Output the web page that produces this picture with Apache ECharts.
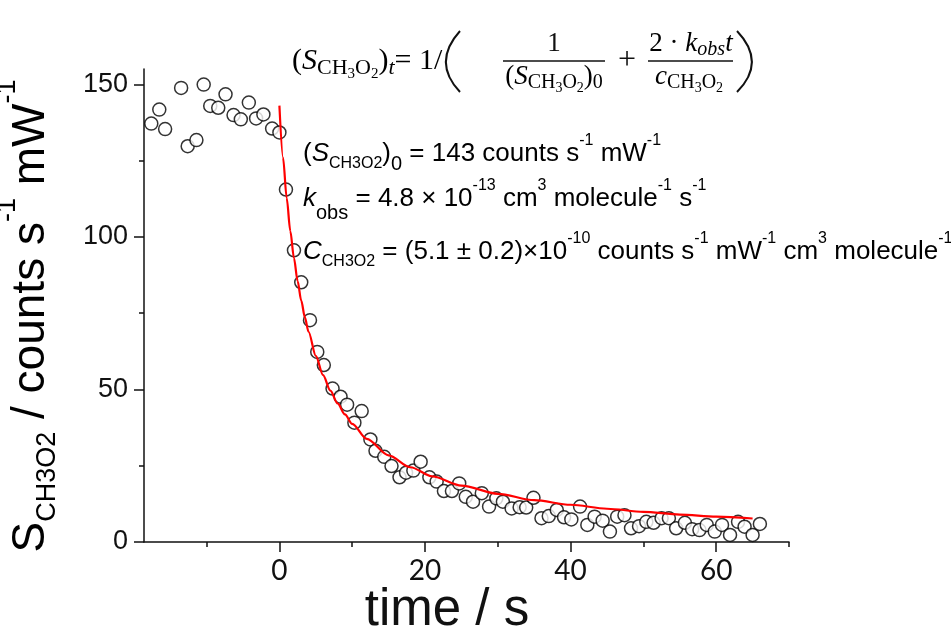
<!DOCTYPE html>
<html>
<head>
<meta charset="utf-8">
<script src="https://cdn.jsdelivr.net/npm/echarts@6/dist/echarts.min.js"></script>
<style>
  html, body { margin: 0; padding: 0; background: #fff; }
  #chart { width: 951px; height: 642px; }
</style>
</head>
<body>
<div id="chart"></div>
<script>
const sigTime = [-17.6, -16.5, -15.7, -13.5, -12.6, -11.4, -10.4, -9.5, -8.4, -7.4, -6.3, -5.3, -4.2, -3.2, -2.2, -1.0, 0.0,
    0.9, 2.0, 3.0, 4.2, 5.2, 6.1, 7.3, 8.4, 9.3, 10.3, 11.3, 12.5, 13.2, 14.4, 15.4, 16.5, 17.4, 18.4, 19.4, 20.6,
    21.6, 22.6, 23.7, 24.7, 25.6, 26.6, 27.8, 28.8, 29.8, 30.7, 31.9, 33.0, 33.9, 34.9, 36.0, 37.0, 38.1, 39.1, 40.1, 41.3,
    42.3, 43.3, 44.4, 45.4, 46.4, 47.4, 48.3, 49.4, 50.4, 51.4, 52.5, 53.5, 54.5, 55.7, 56.7, 57.7, 58.7, 59.8, 60.8, 61.9,
    63.0, 63.9, 65.0, 66.0];
const sigValue = [137.1, 141.7, 135.3, 148.8, 129.7, 131.7, 149.9, 142.9, 142.3, 146.7, 139.9, 138.5, 144.0, 138.8, 140.1, 135.5, 134.2,
    115.5, 95.6, 85.1, 72.7, 62.3, 58.0, 50.3, 47.6, 45.0, 39.1, 42.9, 33.6, 29.9, 27.9, 24.9, 21.2, 22.7, 23.4, 26.3, 21.2,
    19.8, 16.7, 16.7, 19.2, 14.8, 13.2, 16.0, 11.6, 14.3, 13.2, 11.0, 11.4, 11.3, 14.5, 7.8, 8.5, 10.5, 8.1, 7.4, 11.6,
    5.6, 8.3, 7.0, 3.4, 8.3, 8.8, 4.5, 5.2, 6.6, 6.3, 7.8, 7.8, 4.5, 6.3, 4.2, 3.9, 5.6, 3.4, 5.6, 2.3,
    6.6, 5.0, 2.3, 5.9];

// red fit curve
const fitTime = [0, 0.5, 1, 1.5, 2, 2.5, 3, 3.5, 4, 5, 6, 7, 8, 9, 10, 12, 15, 18, 21, 25, 30, 35, 40, 45, 50, 55, 60, 65];
const fitValue = [143.0, 126.0, 112.7, 101.9, 93.0, 85.5, 79.1, 73.6, 68.9, 61.0, 54.7, 49.6, 45.4, 41.8, 38.7, 33.8, 28.4,
    24.5, 21.5, 18.5, 15.8, 13.7, 12.2, 10.9, 9.9, 9.0, 8.3, 7.7];

const xMajorTicks = [0, 20, 40, 60];
const xMinorTicks = [-10, 10, 30, 50, 70];
const yMajorTicks = [0, 50, 100, 150];
const yMinorTicks = [25, 75, 125];

const chart = echarts.init(document.getElementById("chart"));

const sans = "'Liberation Sans', Arial, sans-serif";
const serif = "'Liberation Serif', 'Times New Roman', serif";
const ink = "#111";

// rich styles: sub / sup shifted with padding
const annRich = {
    b: { fontSize: 26, fontFamily: sans, color: ink, lineHeight: 40 },
    i: { fontSize: 26, fontFamily: sans, fontStyle: "italic", color: ink, lineHeight: 40 },
    sub: { fontSize: 16, fontFamily: sans, color: ink, padding: [19, 0, 0, 0] },
    sub0: { fontSize: 20, fontFamily: sans, color: ink, padding: [20, 0, 0, 0] },
    obs: { fontSize: 20, fontFamily: sans, color: ink, padding: [28, 0, 0, 0] },
    sup: { fontSize: 16, fontFamily: sans, color: ink, padding: [0, 0, 27, 0] }
};

const eqRich = {
    b: { fontSize: 30, fontFamily: serif, color: ink, lineHeight: 46 },
    i: { fontSize: 30, fontFamily: serif, fontStyle: "italic", color: ink, lineHeight: 46 },
    s: { fontSize: 22, fontFamily: serif, color: ink, padding: [14, 0, 0, 0] },
    si: { fontSize: 22, fontFamily: serif, fontStyle: "italic", color: ink, padding: [14, 0, 0, 0] },
    ss: { fontSize: 15, fontFamily: serif, color: ink, padding: [26, 0, 0, 0] },
    // fraction sized
    fb: { fontSize: 27, fontFamily: serif, color: ink, lineHeight: 36 },
    fi: { fontSize: 27, fontFamily: serif, fontStyle: "italic", color: ink, lineHeight: 36 },
    fs: { fontSize: 20, fontFamily: serif, color: ink, padding: [12, 0, 0, 0] },
    fsi: { fontSize: 20, fontFamily: serif, fontStyle: "italic", color: ink, padding: [12, 0, 0, 0] },
    fss: { fontSize: 14, fontFamily: serif, color: ink, padding: [22, 0, 0, 0] }
};

const titleRich = {
    b: { fontSize: 46, fontFamily: sans, color: ink, lineHeight: 60 },
    sub: { fontSize: 27, fontFamily: sans, color: ink, padding: [34, 0, 0, 0] },
    sup: { fontSize: 27, fontFamily: sans, color: ink, padding: [0, 0, 46, 0] }
};

const axisLine = { show: true, onZero: false, lineStyle: { color: ink, width: 1.5 } };

chart.setOption({
    backgroundColor: "#fff",
    animation: false,
    grid: { left: 144, right: 162, top: 69, bottom: 100 },
    xAxis: [
        {
            type: "value", min: -18.6, max: 70,
            axisLine,
            axisTick: { show: true, customValues: xMajorTicks, length: 10, lineStyle: { color: ink, width: 1.5 } },
            axisLabel: { customValues: xMajorTicks, margin: 15, fontSize: 28, fontFamily: "Lato, sans-serif", color: ink },
            splitLine: { show: false }
        },
        {
            type: "value", min: -18.6, max: 70, position: "bottom",
            axisLine: { show: false, onZero: false },
            axisTick: { show: true, customValues: xMinorTicks, length: 5, lineStyle: { color: ink, width: 1.5 } },
            axisLabel: { show: false },
            splitLine: { show: false }
        }
    ],
    yAxis: [
        {
            type: "value", min: 0, max: 155,
            axisLine,
            axisTick: { show: true, customValues: yMajorTicks, length: 10, lineStyle: { color: ink, width: 1.5 } },
            axisLabel: { customValues: yMajorTicks, margin: 16, fontSize: 27, fontFamily: sans, color: ink },
            splitLine: { show: false }
        },
        {
            type: "value", min: 0, max: 155, position: "left",
            axisLine: { show: false, onZero: false },
            axisTick: { show: true, customValues: yMinorTicks, length: 5, lineStyle: { color: ink, width: 1.5 } },
            axisLabel: { show: false },
            splitLine: { show: false }
        }
    ],
    series: [
        {
            type: "scatter",
            data: sigTime.map((t, i) => [t, sigValue[i]]),
            symbol: "circle",
            symbolSize: 13,
            itemStyle: { color: "#fff", borderColor: "#000", borderWidth: 1.5 },
            z: 2
        },
        {
            type: "line",
            data: fitTime.map((t, i) => [t, fitValue[i]]),
            showSymbol: false,
            smooth: 0.3,
            smoothMonotone: "x",
            lineStyle: { color: "#ff0000", width: 2.2 },
            z: 3
        }
    ],
    graphic: [
        // y axis title
        {
            type: "text", x: 31, y: 316, rotation: Math.PI / 2,
            style: {
                text: "{b|S}{sub|CH3O2}{b| / counts s}{sup|-1}{b| mW}{sup|-1}",
                rich: titleRich, align: "center", verticalAlign: "middle"
            }
        },
        // x axis title
        {
            type: "text", x: 447, y: 611,
            style: {
                text: "time / s", fontSize: 51, fontFamily: sans, fill: ink,
                align: "center", verticalAlign: "middle"
            }
        },
        // parameter lines
        {
            type: "text", x: 303, y: 154,
            style: {
                text: "{b|(}{i|S}{sub|CH3O2}{b|)}{sub0|0}{b| = 143 counts s}{sup|-1}{b| mW}{sup|-1}",
                rich: annRich, align: "left", verticalAlign: "middle"
            }
        },
        {
            type: "text", x: 303, y: 199,
            style: {
                text: "{i|k}{obs|obs}{b| = 4.8 × 10}{sup|-13}{b| cm}{sup|3}{b| molecule}{sup|-1}{b| s}{sup|-1}",
                rich: annRich, align: "left", verticalAlign: "middle"
            }
        },
        {
            type: "text", x: 303, y: 252,
            style: {
                text: "{i|C}{sub|CH3O2}{b| = (5.1 ± 0.2)×10}{sup|-10}{b| counts s}{sup|-1}{b| mW}{sup|-1}{b| cm}{sup|3}{b| molecule}{sup|-1}",
                rich: annRich, align: "left", verticalAlign: "middle"
            }
        },
        // equation
        {
            type: "text", x: 292, y: 61,
            style: {
                text: "{b|(}{i|S}{s|CH}{ss|3}{s|O}{ss|2}{b|)}{si|t}{b|= 1/}",
                rich: eqRich, align: "left", verticalAlign: "middle"
            }
        },
        {
            type: "bezierCurve",
            shape: { x1: 460, y1: 31, cpx1: 441, cpy1: 52, cpx2: 441, cpy2: 72, x2: 460, y2: 92 },
            style: { stroke: ink, lineWidth: 2, fill: null }
        },
        {
            type: "text", x: 554, y: 44,
            style: { text: "1", fontSize: 27, fontFamily: serif, fill: ink, align: "center", verticalAlign: "middle" }
        },
        { type: "line", shape: { x1: 503, y1: 61, x2: 605, y2: 61 }, style: { stroke: ink, lineWidth: 1.3 } },
        {
            type: "text", x: 554, y: 77,
            style: {
                text: "{fb|(}{fi|S}{fs|CH}{fss|3}{fs|O}{fss|2}{fb|)}{fs|0}",
                rich: eqRich, align: "center", verticalAlign: "middle"
            }
        },
        {
            type: "text", x: 627, y: 61,
            style: { text: "+", fontSize: 32, fontFamily: serif, fill: ink, align: "center", verticalAlign: "middle" }
        },
        {
            type: "text", x: 691, y: 44,
            style: {
                text: "{fb|2 · }{fi|k}{fsi|obs}{fi|t}",
                rich: eqRich, align: "center", verticalAlign: "middle"
            }
        },
        { type: "line", shape: { x1: 648, y1: 61, x2: 733, y2: 61 }, style: { stroke: ink, lineWidth: 1.3 } },
        {
            type: "text", x: 689, y: 77,
            style: {
                text: "{fi|c}{fs|CH}{fss|3}{fs|O}{fss|2}",
                rich: eqRich, align: "center", verticalAlign: "middle"
            }
        },
        {
            type: "bezierCurve",
            shape: { x1: 737, y1: 31, cpx1: 757, cpy1: 52, cpx2: 757, cpy2: 72, x2: 737, y2: 92 },
            style: { stroke: ink, lineWidth: 2, fill: null }
        }
    ]
});

window.addEventListener("resize", () => chart.resize());
</script>
</body>
</html>
